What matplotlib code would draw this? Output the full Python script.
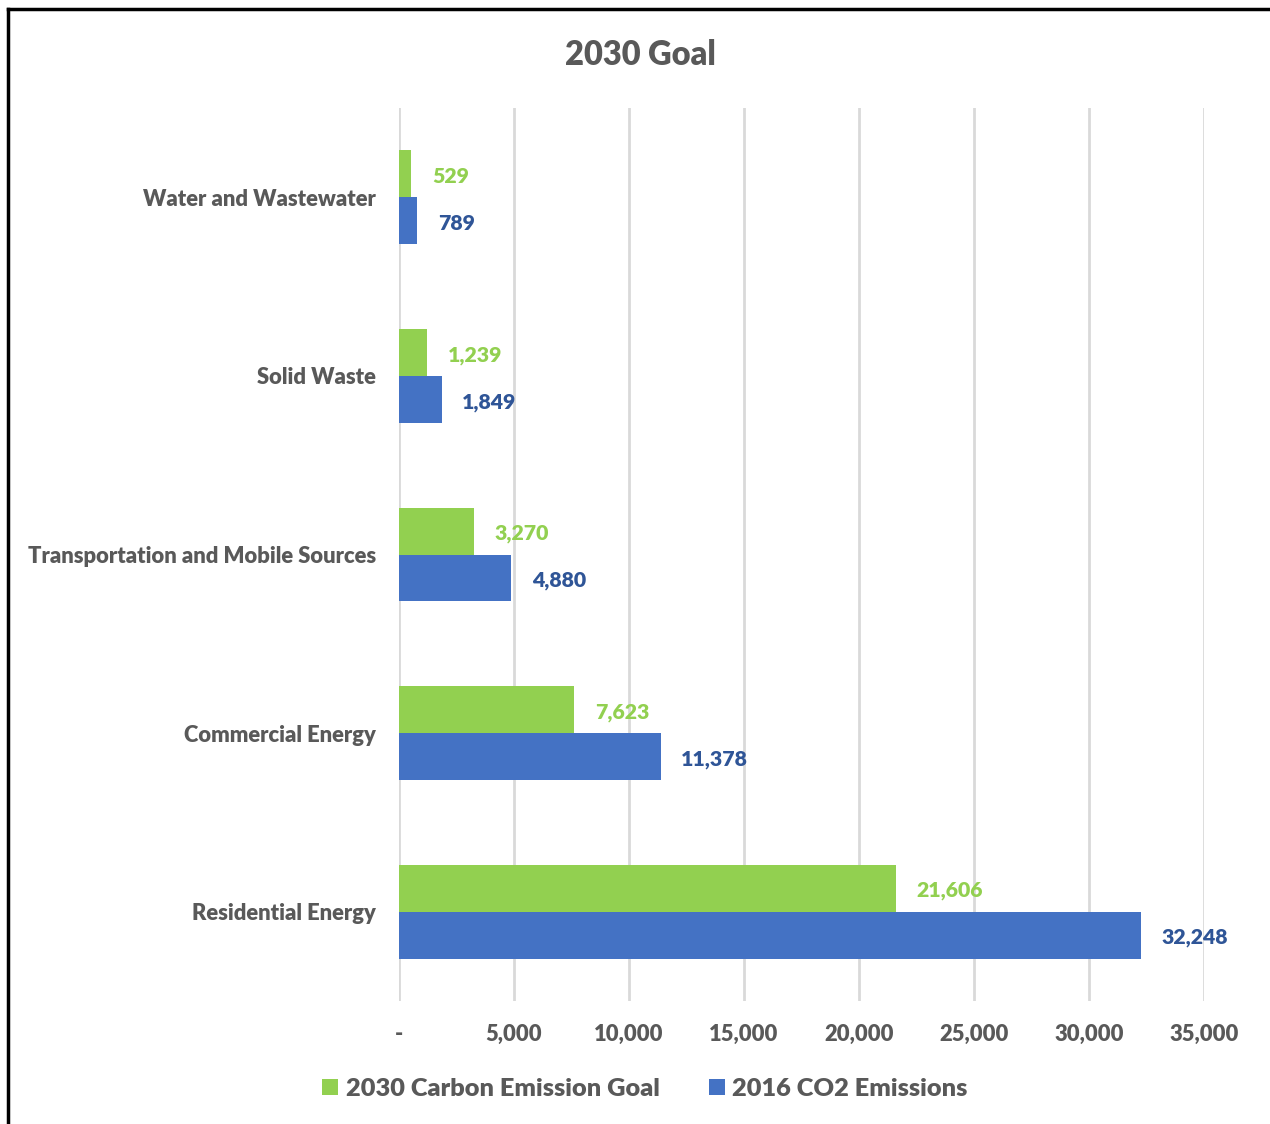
import matplotlib
matplotlib.use("Agg")
import matplotlib.pyplot as plt
from matplotlib.lines import Line2D
from matplotlib.patches import Patch
from matplotlib.ticker import FuncFormatter

categories = ["Water and Wastewater", "Solid Waste",
              "Transportation and Mobile Sources", "Commercial Energy",
              "Residential Energy"]
goal_2030 = [529, 1239, 3270, 7623, 21606]
emissions_2016 = [789, 1849, 4880, 11378, 32248]
series_names = ["2030 Carbon Emission Goal", "2016 CO2 Emissions"]
x_ticks = [0, 5000, 10000, 15000, 20000, 25000, 30000, 35000]

GREEN = "#92D050"
BLUE = "#4472C4"
BLUE_TXT = "#2F5597"
GREY = "#595959"
WEIGHT = 800

plt.rcParams["font.family"] = ["Lato", "DejaVu Sans"]

fig = plt.figure(figsize=(12.7, 11.24), dpi=100)
ax = fig.add_axes([399 / 1270, 1 - 1001 / 1124, 805 / 1270, 893 / 1124])

h = 0.263
ypos = list(range(len(categories)))
ax.barh([y - h / 2 for y in ypos], goal_2030, height=h, color=GREEN, zorder=2)
ax.barh([y + h / 2 for y in ypos], emissions_2016, height=h, color=BLUE, zorder=2)

off = 900
dy = 0.015
for y, v in zip(ypos, goal_2030):
    ax.text(v + off, y - h / 2 + dy, f"{v:,}", color=GREEN, fontsize=15.3,
            fontweight=WEIGHT, va="center", ha="left")
for y, v in zip(ypos, emissions_2016):
    ax.text(v + off, y + h / 2 + dy, f"{v:,}", color=BLUE_TXT, fontsize=15.3,
            fontweight=WEIGHT, va="center", ha="left")

ax.set_xlim(0, 35000)
ax.set_ylim(-0.5, len(categories) - 0.5)
ax.invert_yaxis()
ax.set_yticks(ypos)
ax.set_yticklabels(categories)
ax.set_xticks(x_ticks)
ax.xaxis.set_major_formatter(FuncFormatter(lambda v, p: "-" if v == 0 else f"{int(v):,}"))
ax.grid(axis="x", color="#D9D9D9", linewidth=2, zorder=0)
ax.tick_params(axis="both", length=0, colors=GREY)
ax.tick_params(axis="x", pad=16.5, labelsize=15.8)
ax.tick_params(axis="y", pad=16.5, labelsize=15.8)
for lbl in ax.get_xticklabels() + ax.get_yticklabels():
    lbl.set_fontweight(WEIGHT)
for s in ax.spines.values():
    s.set_visible(False)

fig.text(640 / 1270, 1 - 55 / 1124, "2030 Goal", ha="center", va="center",
         fontsize=23.5, fontweight=WEIGHT, color=GREY)

handles = [Patch(facecolor=GREEN), Patch(facecolor=BLUE)]
fig.legend(handles, series_names, loc="center", ncol=2,
           bbox_to_anchor=(645 / 1270, 1 - 1089 / 1124), frameon=False,
           prop={"size": 18.3, "weight": WEIGHT}, labelcolor=GREY,
           handlelength=0.62, handleheight=0.62, handletextpad=0.3,
           columnspacing=1.95)

# outer frame
fig.add_artist(Line2D([8 / 1270, 8 / 1270], [0, 1 - 9 / 1124], color="black",
                      linewidth=2.5, transform=fig.transFigure))
fig.add_artist(Line2D([8 / 1270, 1], [1 - 9 / 1124, 1 - 9 / 1124], color="black",
                      linewidth=2.5, transform=fig.transFigure))

fig.savefig("out.png", dpi=100, facecolor="white")
